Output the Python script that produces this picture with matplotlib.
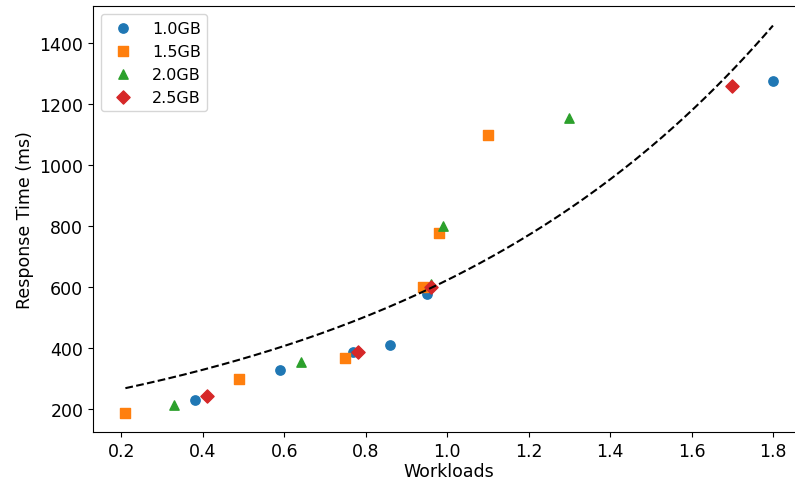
import numpy as np
import matplotlib.pyplot as plt

# datos
x_1gb = [0.38, 0.59, 0.77, 0.86, 0.95, 1.80]
y_1gb = [230, 330, 390, 410, 580, 1278]
x_15gb = [0.21, 0.49, 0.75, 0.94, 0.98, 1.10]
y_15gb = [190, 300, 370, 600, 780, 1100]
x_2gb = [0.33, 0.64, 0.96, 0.99, 1.30]
y_2gb = [215, 355, 610, 800, 1155]
x_25gb = [0.41, 0.78, 0.96, 1.70]
y_25gb = [245, 390, 600, 1260]

# curva de tendencia exponencial y = a * exp(b * x)
fit_a = 216.0
fit_b = 1.061

fig, ax = plt.subplots(figsize=(7.95, 4.81), dpi=100)
ax.scatter(x_1gb, y_1gb, marker='o', s=45, color='tab:blue', label='1.0GB')
ax.scatter(x_15gb, y_15gb, marker='s', s=45, color='tab:orange', label='1.5GB')
ax.scatter(x_2gb, y_2gb, marker='^', s=45, color='tab:green', label='2.0GB')
ax.scatter(x_25gb, y_25gb, marker='D', s=45, color='tab:red', label='2.5GB')

xs = np.linspace(0.21, 1.8, 200)
ax.plot(xs, fit_a * np.exp(fit_b * xs), 'k--', linewidth=1.5)

ax.set_xlabel('Workloads', fontsize=12.5, labelpad=2)
ax.set_ylabel('Response Time (ms)', fontsize=12.5)
ax.tick_params(labelsize=12.5)
ax.legend(fontsize=11.5, loc='upper left')

# el eje derecho queda recortado como en la imagen original
plt.subplots_adjust(left=0.117, right=1.013, bottom=0.1, top=0.985)
plt.savefig('out.png', dpi=100)
